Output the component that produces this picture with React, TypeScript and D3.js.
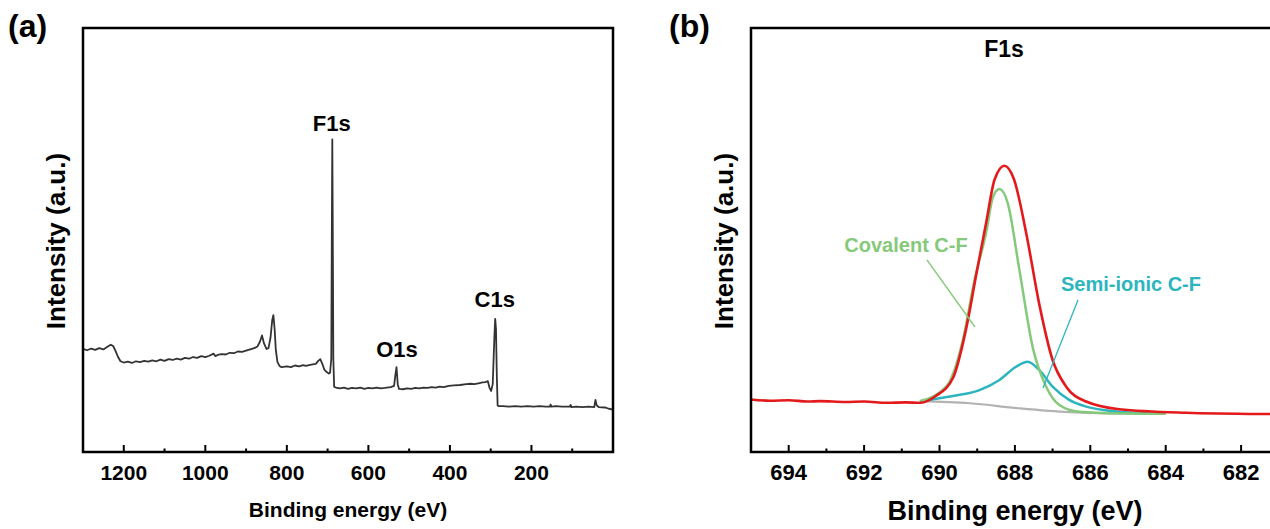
import * as d3 from "d3";
import React from "react";

// ---- panel (a): survey spectrum, binding energy (eV) / intensity (a.u.)
const surveyEV = [
  1300, 1290, 1280, 1270, 1260, 1250, 1240, 1232, 1226, 1220, 1214, 1208, 1200, 1190, 1180, 1170,
  1160, 1150, 1140, 1130, 1120, 1110, 1100, 1090, 1080, 1070, 1060, 1050, 1040, 1030, 1020, 1010,
  1000, 990, 980, 975, 970, 960, 950, 940, 930, 920, 910, 900, 890, 880, 872, 866, 861, 856, 850,
  845, 840, 836, 833, 830, 827, 823, 818, 813, 800, 790, 780, 770, 760, 753, 740, 729, 723, 718,
  713, 708, 703, 697, 694, 691, 689.5, 688.5, 687.5, 686, 684, 680, 670, 660, 650, 640, 630, 620,
  610, 600, 590, 580, 570, 560, 545, 537, 534, 531, 528, 525, 515, 505, 495, 485, 475, 465, 455,
  445, 435, 425, 415, 403, 390, 375, 360, 350, 340, 330, 320, 313, 307, 303, 299, 295, 291, 289,
  287, 285, 283, 281, 270, 255, 240, 225, 210, 195, 180, 165, 155, 153, 151, 140, 125, 106, 104,
  102, 90, 75, 60, 46, 43, 40, 35, 20, 10, 0,
];
const surveyI = [
  24.3, 24.0, 24.4, 24.1, 24.5, 24.2, 24.8, 25.3, 25.0, 23.8, 22.4, 21.4, 21.1, 21.3, 21.0, 21.4,
  21.2, 21.5, 21.3, 21.6, 21.4, 21.8, 21.5, 21.9, 21.7, 22.0, 21.8, 22.2, 22.0, 22.4, 22.2, 22.6,
  22.4, 22.7, 23.2, 22.6, 22.9, 23.1, 23.0, 23.4, 23.3, 23.7, 23.6, 23.9, 24.2, 24.5, 24.9, 26.0,
  27.5, 25.6, 24.3, 24.5, 27.0, 31.0, 32.3, 29.0, 24.0, 21.2, 20.3, 20.0, 20.2, 20.0, 20.4, 20.2,
  20.5, 20.3, 20.6, 20.8, 21.5, 21.9, 20.8, 19.4, 18.9, 18.5, 18.7, 22.0, 55.0, 73.7, 55.0, 22.0,
  15.4, 15.2, 15.0, 15.2, 14.9, 15.1, 15.0, 15.2, 14.9, 15.1, 15.0, 15.2, 15.0, 15.1, 15.3, 15.6,
  18.0, 20.0, 16.0, 14.9, 14.8, 15.0, 14.9, 15.1, 15.0, 15.2, 15.1, 15.3, 15.2, 15.4, 15.3, 15.6,
  15.7, 15.8, 16.0, 16.1, 16.0, 16.2, 16.4, 16.5, 16.7, 15.2, 14.4, 16.0, 27.0, 31.4, 29.0, 18.0,
  11.0, 10.8, 10.8, 10.7, 10.8, 10.7, 10.8, 10.7, 10.8, 10.7, 10.7, 11.2, 10.7, 10.8, 10.7, 10.7,
  11.1, 10.6, 10.7, 10.6, 10.7, 10.6, 12.3, 11.0, 10.6, 10.5, 10.2, 10.0,
];
const surveyMajor = [1200, 1000, 800, 600, 400, 200];
const surveyMinor = [1100, 900, 700, 500, 300, 100];
const surveyPeaks = [
  { label: "F1s", ev: 690, y: 131 },
  { label: "O1s", ev: 530, y: 357 },
  { label: "C1s", ev: 290, y: 307 },
];

// ---- panel (b): F1s high resolution and fit
const envelopeEV = [
  695, 694.5, 694, 693.5, 693.17, 692.5, 692, 691.4, 690.9, 690.5, 690.1, 689.64, 689.3, 689.02,
  688.76, 688.54, 688.28, 688.02, 687.7, 687.35, 687.0, 686.64, 686.11, 685.23, 683.47, 681.26, 680,
];
const envelopeI = [
  12.4, 12.1, 12.2, 11.9, 12.0, 11.8, 11.9, 11.6, 11.7, 11.6, 13.2, 17.5, 28.8, 42.1,
  54.2, 64.2, 67.5, 64.2, 51.6, 34.7, 21.7, 15.4, 11.9, 10.1, 9.27, 8.96, 8.9,
];
const covalentEV = [
  690.52, 689.82, 689.38, 689.07, 688.76, 688.58, 688.41, 688.19, 687.88, 687.53, 687.17, 686.82,
  686.29, 685.23, 684.0,
];
const covalentI = [12.0, 15.4, 26.4, 40.6, 51.9, 60.2, 62.0, 58.7, 42.9, 24.8, 15.4, 11.1, 9.5, 9.1, 9.0];
const semiIonicEV = [
  690.52, 689.64, 688.94, 688.41, 687.97, 687.66, 687.35, 687.0, 686.56, 686.11, 685.23, 684.36,
];
const semiIonicI = [12.0, 13.2, 14.6, 17.0, 20.1, 21.3, 19.3, 15.4, 12.3, 10.7, 9.5, 9.1];
const backgroundEV = [690.52, 689.2, 687.88, 686.56, 685.23, 684.0];
const backgroundI = [12.0, 11.5, 10.3, 9.4, 9.1, 9.0];
const fsMajor = [694, 692, 690, 688, 686, 684, 682];
const fsMinor = [693, 691, 689, 687, 685, 683, 681];

const FONT = "'Liberation Sans', Arial, Helvetica, sans-serif";
const TOP = 28;
const BOTTOM = 452;

const zip = (xs: number[], ys: number[]) => xs.map((x, i) => [x, ys[i]] as [number, number]);

const Frame = ({ x0, x1, xScale, major, minor, fontSize }) => (
  <g>
    {major.map((t) => (
      <g key={"M" + t}>
        <line x1={xScale(t)} x2={xScale(t)} y1={BOTTOM} y2={BOTTOM - 7} stroke="#000" strokeWidth={2} />
        <text x={xScale(t)} y={480} textAnchor="middle" fontFamily={FONT} fontWeight="bold" fontSize={fontSize}>
          {t}
        </text>
      </g>
    ))}
    {minor.map((t) => (
      <line key={"m" + t} x1={xScale(t)} x2={xScale(t)} y1={BOTTOM} y2={BOTTOM - 3.5} stroke="#000" strokeWidth={2} />
    ))}
    <rect x={x0} y={TOP} width={x1 - x0} height={BOTTOM - TOP} fill="none" stroke="#000" strokeWidth={2.5} />
  </g>
);

export default function App() {
  const yScale = d3.scaleLinear().domain([0, 100]).range([BOTTOM, TOP]);

  // (a)
  const xa = d3.scaleLinear().domain([1300, 0]).range([83, 613]);
  const lineA = d3
    .line<[number, number]>()
    .x((d) => xa(d[0]))
    .y((d) => yScale(d[1]));

  // (b)
  const xb = d3.scaleLinear().domain([695, 680]).range([751, 751 + 15 * 37.7]);
  const lineB = d3
    .line<[number, number]>()
    .x((d) => xb(d[0]))
    .y((d) => yScale(d[1]))
    .curve(d3.curveMonotoneX);

  return (
    <svg width={1270} height={529} style={{ position: "absolute", left: 0, top: 0, background: "#fff" }}>
      {/* panel a */}
      <text x={8} y={37} fontFamily={FONT} fontWeight="bold" fontSize={32}>(a)</text>
      <path d={lineA(zip(surveyEV, surveyI)) || undefined} fill="none" stroke="#333" strokeWidth={1.8} strokeLinejoin="round" />
      <Frame x0={83} x1={613} xScale={xa} major={surveyMajor} minor={surveyMinor} fontSize={21} />
      {surveyPeaks.map((p) => (
        <text key={p.label} x={xa(p.ev)} y={p.y} textAnchor="middle" fontFamily={FONT} fontWeight="bold" fontSize={22}>
          {p.label}
        </text>
      ))}
      <text transform={`translate(65, 241) rotate(-90)`} textAnchor="middle" fontFamily={FONT} fontWeight="bold" fontSize={26}>
        Intensity (a.u.)
      </text>
      <text x={348} y={517} textAnchor="middle" fontFamily={FONT} fontWeight="bold" fontSize={21}>
        Binding energy (eV)
      </text>

      {/* panel b */}
      <text x={669} y={37} fontFamily={FONT} fontWeight="bold" fontSize={32}>(b)</text>
      <path d={lineB(zip(backgroundEV, backgroundI)) || undefined} fill="none" stroke="#b3b3b3" strokeWidth={2.2} />
      <path d={lineB(zip(semiIonicEV, semiIonicI)) || undefined} fill="none" stroke="#2db5bf" strokeWidth={2.5} />
      <path d={lineB(zip(covalentEV, covalentI)) || undefined} fill="none" stroke="#85c97a" strokeWidth={2.5} />
      <path d={lineB(zip(envelopeEV, envelopeI)) || undefined} fill="none" stroke="#e31a1c" strokeWidth={2.6} />
      <Frame x0={751} x1={751 + 15 * 37.7} xScale={xb} major={fsMajor} minor={fsMinor} fontSize={22} />
      <text x={1004} y={57} textAnchor="middle" fontFamily={FONT} fontWeight="bold" fontSize={23}>F1s</text>
      <text x={906} y={252} textAnchor="middle" fontFamily={FONT} fontWeight="bold" fontSize={20} fill="#85c97a">
        Covalent C-F
      </text>
      <line x1={927} y1={260} x2={975} y2={327} stroke="#85c97a" strokeWidth={1.3} />
      <text x={1131} y={291} textAnchor="middle" fontFamily={FONT} fontWeight="bold" fontSize={20} fill="#2db5bf">
        Semi-ionic C-F
      </text>
      <line x1={1078} y1={300} x2={1043} y2={388} stroke="#2db5bf" strokeWidth={1.3} />
      <text transform={`translate(733, 241) rotate(-90)`} textAnchor="middle" fontFamily={FONT} fontWeight="bold" fontSize={26}>
        Intensity (a.u.)
      </text>
      <text x={1015} y={520} textAnchor="middle" fontFamily={FONT} fontWeight="bold" fontSize={27}>
        Binding energy (eV)
      </text>
    </svg>
  );
}
